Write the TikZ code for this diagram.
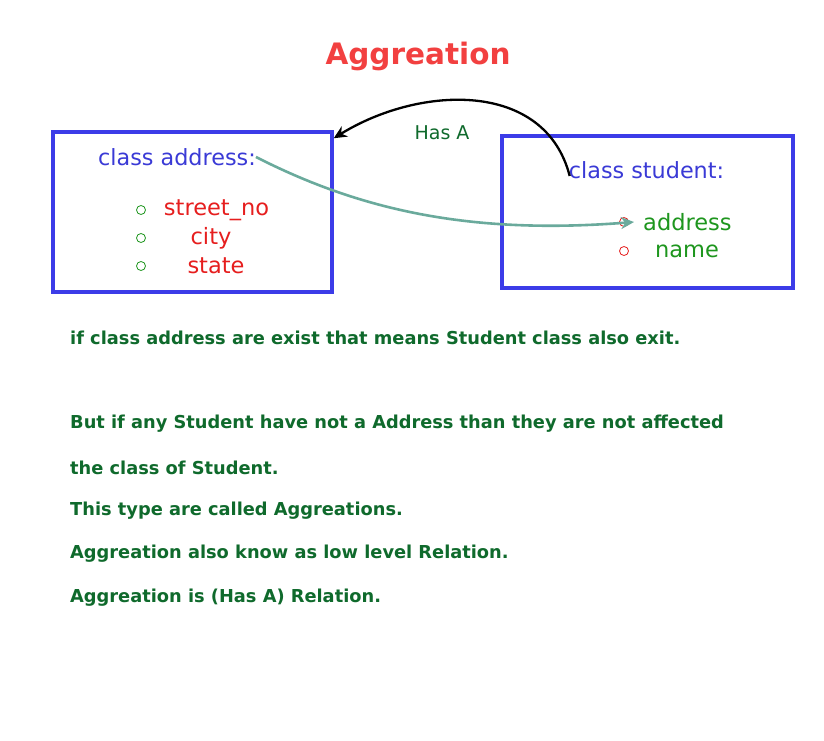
\documentclass[tikz,border=0pt]{standalone}
\usepackage{fontspec}
\setmainfont{DejaVu Sans}
\usetikzlibrary{arrows.meta}
\definecolor{boxblue}{HTML}{3C3CE8}
\definecolor{txtblue}{HTML}{3A3AD6}
\definecolor{itemred}{HTML}{E61E1E}
\definecolor{itemgreen}{HTML}{1E961E}
\definecolor{titlered}{HTML}{F24040}
\definecolor{bodygreen}{HTML}{0F6A2C}
\definecolor{tealarrow}{HTML}{6AAA9C}
\tikzset{
  classbox/.style={draw=boxblue, line width=3.5pt, inner sep=0pt},
  headtxt/.style={text=txtblue, font=\fontsize{22.3}{25}\selectfont, inner sep=0pt},
  itemtxt/.style={font=\fontsize{22.5}{25}\selectfont, inner sep=0pt},
  bullet/.style={circle, draw, line width=0.8pt, minimum size=9pt, inner sep=0pt},
  bodytxt/.style={text=bodygreen, font=\bfseries\fontsize{17.8}{20}\selectfont, anchor=west, inner sep=0pt},
}
\begin{document}
\begin{tikzpicture}[x=1pt,y=-1pt]
\useasboundingbox (0,0) rectangle (824,741);
\fill[white] (0,0) rectangle (824,741);
\node[text=titlered, font=\bfseries\fontsize{29.5}{34}\selectfont, inner sep=0pt] (title) at (418,56) {Aggreation};

\node[classbox, minimum width=279pt, minimum height=160pt] (addrbox) at (192.5,212) {};
\node[classbox, minimum width=291pt, minimum height=152pt] (studbox) at (647.5,212) {};

\node[headtxt] (addrhead) at (177,157) {class address:};
\node[bullet, draw=itemgreen] (b1) at (141,210) {};
\node[bullet, draw=itemgreen] (b2) at (141,238) {};
\node[bullet, draw=itemgreen] (b3) at (141,266) {};
\node[itemtxt, text=itemred] (street) at (216.5,210) {street\_no};
\node[itemtxt, text=itemred] (city) at (211,238) {city};
\node[itemtxt, text=itemred] (state) at (216,266) {state};

\node[headtxt] (studhead) at (646.5,170) {class student:};
\node[bullet, draw=itemred] (b4) at (624,222) {};
\node[bullet, draw=itemred] (b5) at (624,251) {};
\node[itemtxt, text=itemgreen, anchor=west] (addr) at (643,222) {address};
\node[itemtxt, text=itemgreen] (name) at (687,251) {name};

\node[text=bodygreen, font=\fontsize{19}{22}\selectfont, inner sep=0pt] (hasa) at (442,133) {Has A};

\coordinate (hs) at ([xshift=1pt,yshift=-6pt]studhead.west);
\draw[black, line width=2.3pt, -{Stealth[length=13pt,width=12pt]}]
  (hs) .. controls (545,80) and (420,85) .. ([yshift=-8pt]addrbox.north east);
\draw[tealarrow, line width=2.6pt, -{Stealth[length=13pt,width=12pt]}]
  (addrhead.east) .. controls (360,210) and (470,235) .. ([xshift=-9pt]addr.west);

\node[bodytxt] (l1) at (70,338) {if class address are exist that means Student class also exit.};
\node[bodytxt] (l2) at (70,424) {But if any Student have not a Address than they are not affected};
\node[bodytxt] (l3) at (70,468) {the class of Student.};
\node[bodytxt] (l4) at (70,511) {This type are called Aggreations.};
\node[bodytxt] (l5) at (70,554) {Aggreation also know as low level Relation.};
\node[bodytxt] (l6) at (70,598) {Aggreation is (Has A) Relation.};
\end{tikzpicture}
\end{document}
